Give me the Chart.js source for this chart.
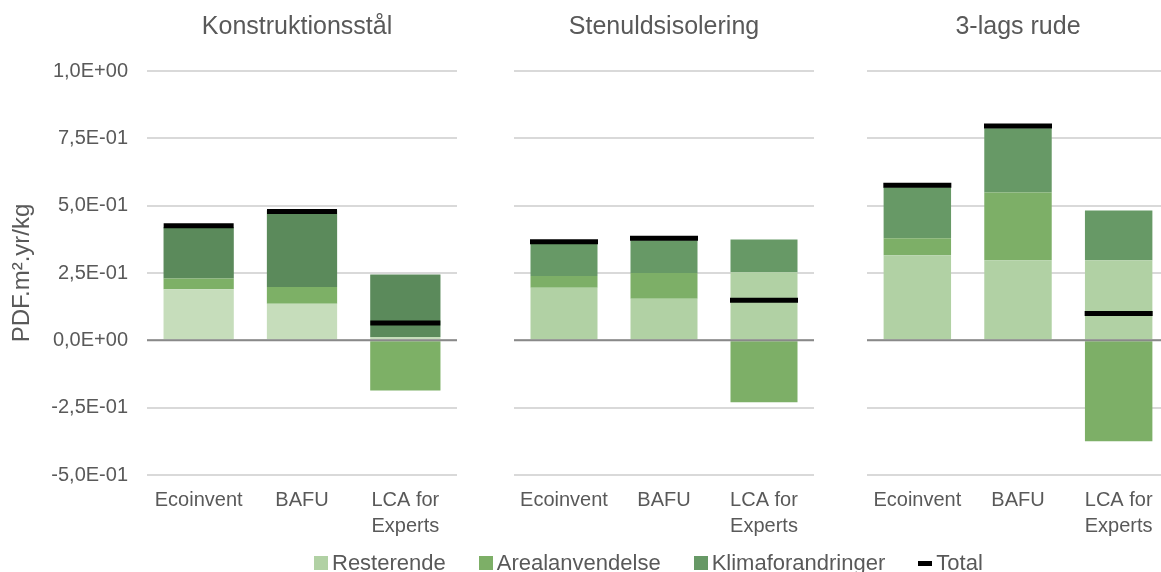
<!DOCTYPE html>
<html>
<head>
<meta charset="utf-8">
<script src="https://cdn.jsdelivr.net/npm/chart.js@4.4.1/dist/chart.umd.min.js"></script>
<style>
	html, body { margin: 0; padding: 0; background: #fff; overflow: hidden; }
	#wrap { position: relative; width: 1161px; height: 572px; overflow: hidden; font-family: "Liberation Sans", Arial, sans-serif; }
	#wrap canvas { position: absolute; top: 0; }
	#legend { position: absolute; left: 314px; top: 550px; display: flex; align-items: center; font-size: 22px; color: #595959; white-space: nowrap; }
	#legend .item { display: flex; align-items: center; margin-right: 33px; }
	#legend .sw { display: inline-block; width: 14px; height: 14px; margin-right: 4px; }
	#legend .dash { display: inline-block; width: 14px; height: 5px; margin-right: 4px; background: #000; }
</style>
</head>
<body>
<div id="wrap">
	<canvas id="c0" width="460" height="572" style="left:0px"></canvas>
	<canvas id="c1" width="300" height="572" style="left:514px"></canvas>
	<canvas id="c2" width="302" height="572" style="left:867px"></canvas>
	<div id="legend"></div>
</div>
<script>
var categories = ['Ecoinvent', 'BAFU', ['LCA for', 'Experts']];
var panelTitles = ['Konstruktionsstål', 'Stenuldsisolering', '3-lags rude'];
var seriesNames = ['Resterende', 'Arealanvendelse', 'Klimaforandringer', 'Total'];

// one row per panel, columns follow categories
var resterende = [
	[0.19, 0.136, 0.012],
	[0.195, 0.154, 0.253],
	[0.316, 0.297, 0.297]
];
var arealanvendelse = [
	[0.04, 0.062, -0.186],
	[0.044, 0.096, -0.23],
	[0.063, 0.252, -0.375]
];
var klimaforandringer = [
	[0.19, 0.285, 0.232],
	[0.12, 0.122, 0.121],
	[0.189, 0.238, 0.185]
];
var total = [
	[0.425, 0.478, 0.064],
	[0.366, 0.379, 0.149],
	[0.576, 0.796, 0.10]
];

var yTickValues = [-0.5, -0.25, 0, 0.25, 0.5, 0.75, 1];
var yTickLabels = ['-5,0E-01', '-2,5E-01', '0,0E+00', '2,5E-01', '5,0E-01', '7,5E-01', '1,0E+00'];
var yAxisTitle = 'PDF.m².yr/kg';

var textColor = '#595959';
var fontFamily = '"Liberation Sans", Arial, sans-serif';

// layout per panel
var panels = [
	{ axisWidth: 147, padRight: 3, bar: 0.68, mark: 35, colors: ['#c6ddbb', '#7db066', '#5b8a5b'] },
	{ axisWidth: 0, padRight: 0, bar: 0.67, mark: 34, colors: ['#b1d1a4', '#7daf67', '#679966'] },
	{ axisWidth: 0, padRight: 0, bar: 0.67, mark: 34, colors: ['#b1d1a4', '#7daf67', '#679966'] }
];

// panel title centred over the plot area
var panelTitlePlugin = {
	id: 'panelTitle',
	afterDraw: function (chart) {
		var opts = chart.options.plugins.panelTitle;
		var area = chart.chartArea;
		var ctx = chart.ctx;
		ctx.save();
		ctx.font = '25px ' + fontFamily;
		ctx.fillStyle = textColor;
		ctx.textAlign = 'center';
		ctx.textBaseline = 'middle';
		ctx.fillText(opts.text, (area.left + area.right) / 2 + opts.shift, 27);
		ctx.restore();
	}
};

// zero axis line, on top of the bars
var zeroLinePlugin = {
	id: 'zeroLine',
	afterDatasetsDraw: function (chart) {
		var area = chart.chartArea;
		var y = chart.scales.y.getPixelForValue(0);
		var ctx = chart.ctx;
		ctx.save();
		ctx.strokeStyle = '#898989';
		ctx.lineWidth = 2;
		ctx.beginPath();
		ctx.moveTo(area.left, y);
		ctx.lineTo(area.right, y);
		ctx.stroke();
		ctx.restore();
	}
};

panels.forEach(function (p, i) {
	var first = i === 0;
	new Chart(document.getElementById('c' + i), {
		type: 'bar',
		data: {
			labels: categories,
			datasets: [
				{
					type: 'line',
					label: seriesNames[3],
					data: total[i],
					stack: 'total',
					order: -1,
					showLine: false,
					clip: false,
					pointStyle: 'line',
					pointRadius: p.mark,
					pointHoverRadius: p.mark,
					pointBorderWidth: 5,
					pointBorderColor: '#000',
					pointBackgroundColor: '#000'
				},
				{ label: seriesNames[0], data: resterende[i], backgroundColor: p.colors[0], stack: 's' },
				{ label: seriesNames[1], data: arealanvendelse[i], backgroundColor: p.colors[1], stack: 's' },
				{ label: seriesNames[2], data: klimaforandringer[i], backgroundColor: p.colors[2], stack: 's' }
			]
		},
		options: {
			responsive: false,
			animation: false,
			categoryPercentage: 1,
			barPercentage: p.bar,
			layout: {
				autoPadding: false,
				padding: { top: 71, bottom: 21, left: 0, right: p.padRight }
			},
			plugins: {
				legend: { display: false },
				tooltip: { enabled: false },
				panelTitle: { text: panelTitles[i], shift: first ? -5 : 0 }
			},
			scales: {
				x: {
					stacked: true,
					grid: { display: false, drawTicks: false },
					border: { display: false },
					afterFit: function (scale) {
						scale.paddingLeft = 0;
						scale.paddingRight = 0;
					},
					ticks: {
						color: textColor,
						padding: 12,
						font: { family: fontFamily, size: 20, lineHeight: 1.3 },
						maxRotation: 0,
						autoSkip: false
					}
				},
				y: {
					stacked: true,
					min: -0.5,
					max: 1,
					afterFit: function (scale) { scale.width = p.axisWidth; },
					afterBuildTicks: function (scale) {
						scale.ticks = yTickValues.map(function (v) { return { value: v }; });
					},
					grid: {
						color: '#d9d9d9',
						lineWidth: 2,
						drawTicks: false
					},
					border: { display: false },
					title: {
						display: first,
						text: yAxisTitle,
						color: textColor,
						font: { family: fontFamily, size: 24 },
						padding: { top: 8, bottom: 0 }
					},
					ticks: {
						display: first,
						color: textColor,
						padding: 19,
						font: { family: fontFamily, size: 20 },
						callback: function (value) {
							return yTickLabels[yTickValues.indexOf(value)];
						}
					}
				}
			}
		},
		plugins: [panelTitlePlugin, zeroLinePlugin]
	});
});

// legend shared by the three panels
var legend = document.getElementById('legend');
seriesNames.forEach(function (name, k) {
	var item = document.createElement('span');
	item.className = 'item';
	var mark = document.createElement('span');
	if (k < 3) {
		mark.className = 'sw';
		mark.style.background = panels[1].colors[k];
	} else {
		mark.className = 'dash';
	}
	item.appendChild(mark);
	item.appendChild(document.createTextNode(name));
	legend.appendChild(item);
});
</script>
</body>
</html>
